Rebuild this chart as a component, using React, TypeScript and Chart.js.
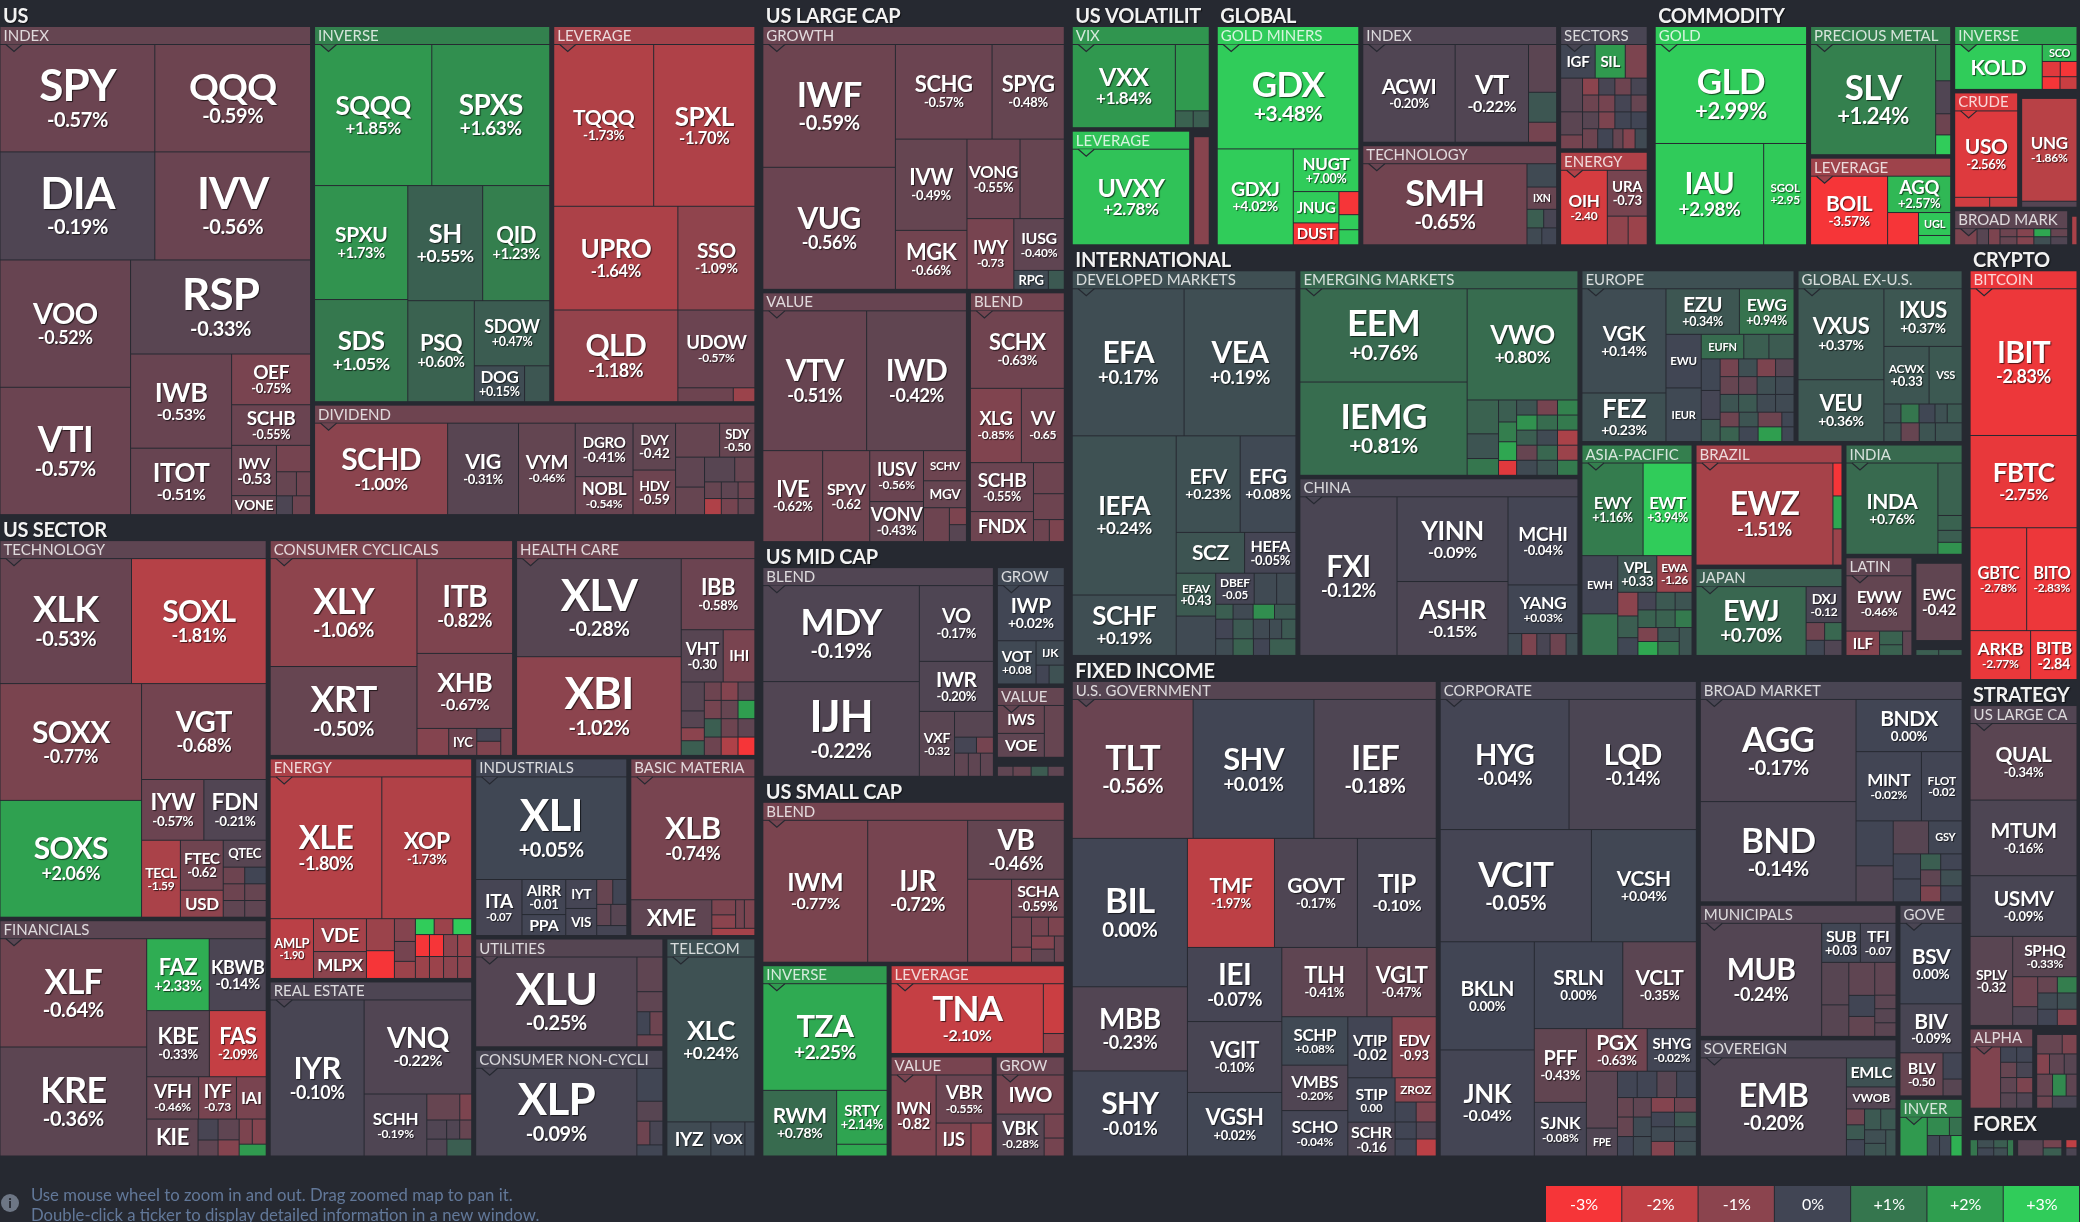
import { useEffect, useRef } from "react";
import { Chart, registerables } from "chart.js";
Chart.register(...registerables);

type Leaf = [string, number, number];
type Split = { dir: "h" | "v"; kids: Node[] };
type Group = { kind: "group" | "sector"; title: string; weight: number; child: Node };
type Node = Leaf | Split | Group;
const H = (...kids: Node[]): Split => ({ dir: "h", kids });
const V = (...kids: Node[]): Split => ({ dir: "v", kids });
const G = (title: string, weight: number, child: Node): Group => ({ kind: "group", title, weight, child });
const S = (title: string, weight: number, child: Node): Group => ({ kind: "sector", title, weight, child });

// ---------- values: [ticker, % change, size] ----------
const usIndex = V(H(["SPY",-0.57,166],["QQQ",-0.59,167]),H(["DIA",-0.19,167],["IVV",-0.56,168]),H(V(["VOO",-0.52,166],["VTI",-0.57,166]),V(["RSP",-0.33,169],H(V(["IWB",-0.53,95],["ITOT",-0.51,67]),V(["OEF",-0.75,40],["SCHB",-0.55,32],H(V(["IWV",-0.53,22.5],["VONE",-0.5,8.5]),V(["",-0.7,9],H(["",-0.5,4.8],["",-0.6,3.4]),H(["",-0.15,3],["",-0.6,3.4]))))))));
const usInverse = V(H(["SQQQ",1.85,165],["SPXS",1.63,166]),H(V(["SPXU",1.73,106],["SDS",1.05,95]),V(H(["SH",0.55,86],["QID",1.23,77]),H(["PSQ",0.6,67],V(["SDOW",0.47,49],H(["DOG",0.15,18],["",0.35,9]))))));
const usLeverage = V(H(["TQQQ",-1.73,162],["SPXL",-1.7,164]),H(V(["UPRO",-1.64,129],["QLD",-1.18,114]),V(["SSO",-1.09,80],["UDOW",-0.57,60],H(["",-0.6,7.7],["",-1.3,3]))));
const usDividend = H(["SCHD",-1.0,122],["VIG",-0.31,65],["VYM",-0.46,52],V(["DGRO",-0.41,31],["NOBL",-0.54,22]),V(["DVY",-0.42,20],["HDV",-0.59,19]),V(H(["",-0.5,15],["SDY",-0.5,12]),H(V(["",-0.4,8.7],["",-0.5,8]),V(H(["",-0.3,7.5],["",-0.5,5]),H(["",-0.5,2.8],["",-0.4,2.8],["",-0.6,2.8]),H(["",-1.7,2.7],["",-0.7,2.7],["",-0.5,2.7])))));
const techCells = V(H(["XLK",-0.53,165],["SOXL",-1.81,169]),H(V(["SOXX",-0.77,166],["SOXS",2.06,166]),V(["VGT",-0.68,120],H(["IYW",-0.57,38],["FDN",-0.21,38]),H(["TECL",-1.59,30],V(["FTEC",-0.62,21.5],["USD",-1.05,11.6]),V(["QTEC",-0.3,11.6],H(["",-0.6,3.6],["",0,3.6]),H(["",-0.6,3.6],["",-0.5,3.6]),H(["",-0.4,3.6],["",-0.4,3.6]))))));
const financeCells = H(V(["XLF",-0.64,159],["KRE",-0.36,160]),V(H(["FAZ",2.33,45],["KBWB",-0.14,41]),H(["KBE",-0.33,41.5],["FAS",-2.09,37.6]),H(["VFH",-0.46,22],["IYF",-0.73,16],["IAI",-0.75,12.6]),H(["KIE",-0.4,19],V(["",-0.1,4.2],["",-0.4,3.2]),V(["",-0.4,4.4],["",-0.9,3.4]),V(H(["",-0.8,3.3],["",-0.9,3.5]),["",1.9,3.2]))));
const cyclicalCells = H(V(["XLY",-1.06,159],["XRT",-0.5,131]),V(["ITB",-0.82,91],["XHB",-0.67,72],H(["",-0.9,8.6],["IYC",-0.6,7.6],V(["",-0.05,3.1],["",-0.85,3.4]),["",-0.8,3.2])));
const healthCells = H(V(["XLV",-0.28,162],["XBI",-1.02,163]),V(["IBB",-0.58,52.5],H(["VHT",-0.3,22],["IHI",-0.75,16.6]),H(V(["",-0.3,6.7],["",-0.3,3.9],["",-1,3],["",0.5,3.4]),V(H(["",-0.6,3.1],["",-0.9,3.1],["",-0.4,3.1]),H(["",-0.7,3.1],["",-0.5,3.1],["",2,3.1]),H(["",0.5,3.1],["",-0.6,3.1],["",-0.4,3.1]),H(["",-0.6,3.1],["",-1.7,3.1],["",-3,3.1])))));
const energyCells = V(H(["XLE",-1.8,159],["XOP",-1.73,128]),H(["AMLP",-1.9,26],V(["VDE",-1.5,17.5],["MLPX",-1.0,14.3]),V(["",-1.3,9],["",-3,7.8]),V(["",-0.9,4.8],["",-0.7,4.2],["",-1.3,3.6]),V(H(["",3,3],["",-1.3,3],["",3,3]),H(["",-3,3.1],["",-3,3.1],["",-1,3.1],["",-1.3,3.1]),H(["",-1.3,3.1],["",-1.3,3.1],["",-1,3.1],["",-1,3.1]))));
const realEstateCells = H(["IYR",-0.1,147],V(["VNQ",-0.22,101.5],H(["SCHH",-0.19,39],V(H(["",-0.5,8.6],["",-0.8,3.1]),H(["",-0.2,3.8],["",-0.2,2.5],["",-0.5,2.3]),H(["",-0.2,3.4],["",0.5,4.2])))));
const industrialCells = V(["XLI",0.05,155.5],H(["ITA",-0.07,26],V(["AIRR",-0.01,15.4],["PPA",-0.02,9.2]),V(["IYT",-0.05,9],["VIS",-0.05,8.4]),V(H(["",-0.5,4],["",0,3.5]),H(["",-0.4,3],["",-0.3,3.4]),["",-0.05,3])));
const materialCells = V(["XLB",-0.74,152.5],H(["XME",-0.4,29],V(H(V(["",-0.8,3.6],["",-1,3.2]),["",-0.7,2.5],["",-0.8,3]),["",-1.5,3.1])));
const utilityCells = H(["XLU",-0.25,145],V(["",-0.4,9],["",-0.4,5.2],H(["",0,3],["",-0.6,3]),["",-0.6,3.1]));
const staplesCells = H(["XLP",-0.09,142],V(["",0.02,8.6],["",-0.3,5.2],H(["",-0.6,3.1],["",-0.1,3.1]),["",0.02,2.9]));
const telecomCells = V(["XLC",0.24,145],H(["IYZ",0.12,15],["VOX",0.08,11.6],["",0.08,3.4]));

const growthCells = H(V(["IWF",-0.59,162],["VUG",-0.56,161]),V(H(["SCHG",-0.57,91],["SPYG",-0.48,68]),H(V(["IVW",-0.49,65],["MGK",-0.66,42]),V(H(["VONG",-0.55,42],["",-0.5,35]),H(["IWY",-0.73,33],V(["IUSG",-0.4,26],H(["RPG",0.1,6.5],["",0.4,3])))))));
const valueCells = V(H(["VTV",-0.51,145.6],["IWD",-0.42,140]),H(["IVE",-0.62,54.6],["SPYV",-0.62,43],V(["IUSV",-0.56,27.5],["VONV",-0.43,21.6]),V(["SCHV",-0.6,13],["MGV",-0.5,11.6],H(["",-0.6,8.8],V(["",-0.8,2.9],["",-0.3,2.9])))));
const blendCells = V(["SCHX",-0.63,73],H(["XLG",-0.85,38],["VV",-0.65,32]),H(V(["SCHB",-0.55,31],["FNDX",-0.6,19]),V(["",-0.6,9.6],["",-0.6,8],H(["",-0.6,3.5],["",-0.8,3.3]))));
const midBlendCells = H(V(["MDY",-0.19,150],["IJH",-0.22,148]),V(["VO",-0.17,56],["IWR",-0.2,37],H(["VXF",-0.32,22.8],V(["",-0.3,10],H(["",-0.05,3.5],["",-0.7,2.7]),H(["",-0.4,3.2],["",-0.4,2.8],["",-0.4,3])))));
const midGrowCells = V(["IWP",0.02,37.5],H(["VOT",0.08,17],V(["IJK",0.1,7],H(["",-0.02,2.5],["",0.25,2.9]))));
const midValueCells = H(V(["IWS",-0.5,13.2],["VOE",-0.4,11.3]),["",-0.5,10.4]);
const midBareCells = H(["",-0.4,2.5],["",-0.5,2.9],["",0.45,2.7],["",-0.4,2.6]);
const smallBlendCells = H(["IWM",-0.77,149],["IJR",-0.72,142],V(["VB",-0.46,57],H(["",-0.75,36.5],V(["SCHA",-0.59,20],H(V(["",-0.7,6],["",-0.9,3]),V(H(["",-0.7,3.2],["",-0.8,3]),H(V(["",-0.9,3],["",-0.45,3]),["",-0.6,2.6])))))));
const smallInverseCells = V(["TZA",2.25,134],H(["RWM",0.78,49],V(["SRTY",2.14,27.5],["",2.2,6])));
const smallLeverCells = H(["TNA",-2.1,107],V(["",-2.2,10.5],["",-1.3,4.2]));
const smallValueCells = H(["IWN",-0.82,36.5],V(["VBR",-0.55,27],H(["IJS",-0.8,11.5],["",-1,7])));
const smallGrowCells = V(["IWO",-0.7,26.5],H(["VBK",-0.28,20],V(["",-0.7,4.8],["",-0.7,3.6])));

const vixCells = H(["VXX",1.84,85.5],V(["",1.9,22.4],H(["",0.6,3],["",0.5,2.7])));
const goldMinerCells = V(["GDX",3.48,148],H(["GDXJ",4.02,73],V(["NUGT",7.0,28],H(V(["JNUG",6.9,14.3],["DUST",-6.9,10]),V(["",-7,4.6],["",3.5,3],["",3.5,3])))));
const globalIndexCells = H(["ACWI",-0.2,90],["VT",-0.22,71.5],V(["",-0.35,13.4],["",0.35,8.4],["",-0.7,5.6]));
const globalTechCells = H(["SMH",-0.65,133],V(["",0.1,6.9],["IXN",-0.5,6.6],H(["",0.5,3.1],["",-0.1,2.4]),H(["",0.1,2.5],["",0.02,2.5])));
const globalSectorCells = V(H(["IGF",0.02,11.5],["SIL",1.9,10],["",-0.8,7.3]),H(V(["",-0.3,7.3],["",-0.35,5],["",-0.7,3]),V(H(["",-1,2.7],["",-0.1,2.7],["",-0.6,2.7],["",-0.1,2.7]),H(["",-0.6,2.7],["",-0.7,2.7],["",-0.05,2.7],["",-0.5,2.7]),H(["",-0.3,2.7],["",-0.8,2.7],["",0,2.7],["",0,2.7]),H(["",-0.6,3],["",0,3],["",-0.5,2],["",-0.9,2.4],["",0.1,2.4]))));
const globalEnergyCells = H(["OIH",-2.4,35],V(["URA",-0.73,18.4],H(["",-1.1,6],["",-1.3,5.5])));
const goldCells = V(["GLD",2.99,150],H(["IAU",2.98,110],["SGOL",2.95,43.5]));
const preciousCells = H(["SLV",1.24,139],V(["",1.3,5.5],["",-0.2,5],["",-0.6,3.2],["",3,3]));
const commodityLeverCells = H(["BOIL",-3.57,53],V(["AGQ",2.57,23],H(["",-3.2,10],V(["UGL",2.9,7.4],["",3,3]))));
const commodityInverseCells = H(["KOLD",3.2,40],V(["SCO",2.6,6],H(["",-2.6,2.8],["",-3.2,2.6]),H(["",-3.2,2.3],["",-2.2,2.2])));
const crudeCells = V(["USO",-2.56,55],H(["",-2.3,3.5],["",-2.2,2.8]));
const ungCells = V(["UNG",-1.86,56.6],["",-0.25,3.3]);
const broadCommodityCells = H(["",-0.8,3.7],["",-0.3,1.9],["",-0.8,1.9],V(H(["",-0.6,1.4],["",-0.9,1.4],["",2.2,1.4],["",-0.5,1.4]),H(["",-0.5,1.4],["",-0.9,1.4],["",0.2,1.4],["",-0.2,1.4])));

const developedCells = V(H(["EFA",0.17,165],["VEA",0.19,165]),H(V(["IEFA",0.24,166],["SCHF",0.19,63]),V(H(["EFV",0.23,62],["EFG",0.08,54]),H(["SCZ",0.3,28],["HEFA",-0.05,21]),H(V(["EFAV",0.43,17],["",0.1,15.6]),V(H(["DBEF",-0.05,12],["",0.1,7],["",0.12,6]),H(["",0.5,2.6],["",0.1,3],["",1.6,3.2],["",0.4,3.2]),H(["",-0.02,3.4],["",0.4,4],["",0.1,3.2],["",0.15,2.4],["",0.4,2.8]),H(["",0.15,2.9],["",0.6,3.4],["",0,2.7],["",0.5,4.4]))))));
const emergingCells = H(V(["EEM",0.76,157],["IEMG",0.81,157]),V(["VWO",0.8,124],H(V(["",0.6,10.7],["",0.3,7.8],["",1,5.3]),V(["",0.5,4],["",1.2,3.6],["",2.2,3.4],["",-2.6,2.7]),V(H(["",0.3,3.1],["",-0.7,3.1],["",1.3,3.1]),H(["",1.7,3.1],["",0.8,3.1],["",1.1,3.1]),H(["",0.5,3.1],["",0.1,3.1],["",-1.6,3.1]),H(["",-0.5,3.1],["",0.7,3.1],["",-1.3,3.1]),H(["",0.1,3.1],["",0.3,3.1],["",1.1,3.1])))));
const chinaCells = H(["FXI",-0.12,154],V(["YINN",-0.09,94],["ASHR",-0.15,82]),V(["MCHI",-0.04,61.6],["YANG",0.03,34],H(["",0.1,3],["",-0.8,3.3],["",-0.1,2.9],["",-0.6,3.5],["",0.2,2.6])));
const europeCells = H(V(["VGK",0.14,88],["FEZ",0.23,41]),V(H(["EZU",0.34,33.6],["EWG",0.94,25]),H(V(["EWU",0.02,19],["IEUR",0.08,19]),V(H(["EUFN",0.8,10.5],["",0.5,6.2],["",0.45,6.2]),H(V(["",0.05,6],["",-0.05,5.5],["",0.4,4.2]),V(H(["",-0.7,3.3],["",0.2,3.3],["",-0.8,3.3],["",-0.3,3.3]),H(["",-0.5,3.3],["",-0.4,3.3],["",0.2,3.3],["",0.1,3.3]),H(["",0.3,3.3],["",0.4,3.3],["",0.1,3.3],["",0.1,3.3]),H(["",-0.6,2.8],["",0.3,2.8],["",-0.6,3.5],["",0.05,1.8]),H(["",0.6,2.8],["",0.05,2.8],["",2,3.5],["",0.05,1.8])))))));
const exUsCells = H(V(["VXUS",0.37,78],["VEU",0.36,53]),V(["IXUS",0.37,45],H(["ACWX",0.33,26],["VSS",0.4,19]),V(H(["",0.25,3.2],["",1,3.4],["",0.05,3],["",0.25,2.3],["",0.4,2.8]),H(["",0.3,3.2],["",-0.5,3.4],["",0.3,3],["",0.3,5]))));
const asiaCells = V(H(["EWY",1.16,57],["EWT",3.94,45.6]),H(V(["EWH",-0.02,21],["",0.9,15]),V(H(["VPL",0.33,14.4],["EWA",-1.26,13]),H(V(["",-1,4.8],["",0.5,4.4],["",0.05,3.6]),V(H(["",-0.05,3.2],["",0.4,3.4],["",0.3,3]),H(["",0.6,3.2],["",0.6,3.4],["",1.1,3]),H(V(["",-0.8,2.8],["",2.2,2.8]),V(["",0.3,3],["",0.9,3]),["",0.3,3.6]))))));
const brazilCells = H(["EWZ",-1.51,141],V(["",-3,3],["",2.2,3],["",-1.3,3.3]));
const japanCells = H(["EWJ",0.7,74],V(["DXJ",-0.12,12.6],H(["",-0.6,3.2],["",0.7,3]),H(["",0.05,2.7],["",-0.2,2.6])));
const indiaCells = H(["INDA",0.76,84],V(["",0.6,12.7],["",0.6,3.6],["",0.5,2.9],["",1.7,2.9]));
const latinCells = V(["EWW",-0.46,37],H(["ILF",-0.9,8.3],V(["",0.6,3.2],["",0.6,2.5]),["",-0.4,2.3]));
const ewcCells: Leaf = ["EWC",-0.42,44];
const latinBareCells = H(["",0.5,3.7],["",0.5,3.8]);

const govCells = V(H(["TLT",-0.56,168],["SHV",0.01,168],["IEF",-0.18,170]),H(V(["BIL",0,171],["MBB",-0.23,97],["SHY",-0.01,98]),V(H(["TMF",-1.97,95],["GOVT",-0.17,90.5],["TIP",-0.1,86]),H(V(["IEI",-0.07,70],["VGIT",-0.1,67],["VGSH",0.02,60]),V(H(["TLH",-0.41,59],["VGLT",-0.47,48]),H(V(["SCHP",0.08,32],["VMBS",-0.2,30],["SCHO",-0.04,30]),V(H(["VTIP",-0.02,27],["EDV",-0.93,27]),H(V(["STIP",0,21],["SCHR",-0.16,16]),V(["ZROZ",-1,10],H(["",0,4.2],["",-0.8,4]),H(["",0,3.6],["",-0.2,3.4]),H(["",0,3.6],["",-1.9,3.4]))))))))));
const corpCells = V(H(["HYG",-0.04,168],["LQD",-0.14,166]),H(["VCIT",-0.05,170],["VCSH",0.04,118]),H(V(["BKLN",0,102],["JNK",-0.04,100]),V(H(["SRLN",0,77],["VCLT",-0.35,64]),H(V(["PFF",-0.43,38.5],["SJNK",-0.08,28]),V(H(["PGX",-0.63,26],["SHYG",-0.02,21]),H(V(["",-0.35,17.7],["FPE",-0.2,8.7]),V(H(["",0,5.2],["",0,5.2],["",-0.3,5.2],["",0,5.2]),H(V(["",-0.5,3.1],["",-0.5,3.1],["",0,3.1]),V(["",-0.4,3.5],["",0.1,3.5],["",0.1,3.5]),V(["",-0.9,3.4],["",0,3.4],["",0.1,3.4],["",-0.9,3.4]),V(["",-0.6,3.2],["",0.35,3.2],["",0.1,3.2],["",0.2,3.2])))))))));
const broadCells = H(V(["AGG",-0.17,158],["BND",-0.14,155]),V(["BNDX",0,55],H(["MINT",-0.02,45],["FLOT",-0.02,28]),H(V(["",0,16.6],["",-0.2,13.3]),V(H(["",-0.3,11.6],["GSY",0.02,11]),H(V(["",0,6.8],["",0,6.2]),V(H(["",0.5,3.2],["",0,3.4]),H(["",-0.4,3.2],["",0.2,3.4]),H(["",-0.8,3.2],["",0,3.4])))))));
const muniCells = H(["MUB",-0.24,138],V(H(["SUB",0.03,15.2],["TFI",-0.07,14]),H(V(["",-0.3,11.6],["",-0.3,8.6]),V(["",-0.4,8.6],["",0,5.5],["",-0.45,5.2]),V(["",-0.4,7],["",-0.35,2.9],["",-0.3,3],["",-0.35,2.9]))));
const sovereignCells = H(["EMB",-0.2,144.5],V(["EMLC",0.25,14.5],["VWOB",-0.25,11],H(V(["",-0.6,2.9],["",0.4,2.7],["",0,3]),V(H(["",0.4,3.4],["",0.4,3.2]),H(V(["",0.2,2.9],["",0.3,2.7]),["",0.3,2.7])))));
const shortGovCells = V(["BSV",0,50],["BIV",-0.09,30.4],H(["BLV",-0.5,18.5],V(["",-0.02,5],["",-0.3,3.2])));
const bondInverseCells = H(["",1.9,10.5],V(H(["",1.5,4],["",0.9,2.3]),H(["",0.05,2.5],["",0.05,2.3],["",2.4,2.3])));
const bitcoinCells = V(["IBIT",-2.83,159],["FBTC",-2.75,100],H(["GBTC",-2.78,59],["BITO",-2.83,52.5]),H(["ARKB",-2.77,30],["BITB",-2.84,23]));
const strategyLargeCells = V(["QUAL",-0.34,82],["MTUM",-0.16,81],["USMV",-0.09,65],H(["SPLV",-0.32,38],V(["SPHQ",-0.33,26],H(V(["",-0.6,7.5],["",-0.2,4.7]),V(H(["",-0.5,3.2],["",1.2,3.2]),H(["",0.1,3.2],["",0.2,3.2]),H(["",0,3.2],["",-0.9,3.2]))))));
const alphaCells = H(["",-0.85,19],V(H(["",0,2.5],["",0,2.5]),H(["",-0.5,2.5],["",-0.1,2.5]),H(["",-0.4,2.5],["",-0.8,2.5]),H(["",-0.3,2.5],["",-0.2,2.5])));
const strategyBareCells = V(H(["",-0.5,5],["",-0.8,2.9]),H(["",-0.9,2.6],["",-0.4,3],["",-0.3,2.6]),H(["",-0.5,3.5],["",1.5,3],["",-0.4,2.4]),H(["",-0.6,1.9],["",-0.1,3]));
const forexCells1 = H(["",1,1.2],V(["",0.2,1.3],["",0.05,1.3]),V(["",0.5,1.1],["",0.2,1.1]),["",1,1]);
const forexCells2 = H(["",-0.3,3],V(["",-0.7,1.1],["",0.5,1.1]));
const forexCells3 = V(["",-2,0.6],["",-0.15,0.6]);

const mapTree = H(
  V(
    S("US", 3926, H(G("INDEX",1547,usIndex), V(H(G("INVERSE",906,usInverse),G("LEVERAGE",777,usLeverage)),G("DIVIDEND",502,usDividend)))),
    S("US SECTOR", 4898, H(V(G("TECHNOLOGY",1033,techCells),G("FINANCIALS",649,financeCells)),V(H(G("CONSUMER CYCLICALS",541,cyclicalCells),G("HEALTH CARE",532,healthCells)),H(V(G("ENERGY",461,energyCells),G("REAL ESTATE",367,realEstateCells)),V(H(G("INDUSTRIALS",281,industrialCells),G("BASIC MATERIA",232,materialCells)),H(V(G("UTILITIES",214,utilityCells),G("CONSUMER NON-CYCLI",210,staplesCells)),G("TELECOM",204,telecomCells)))))))
  ),
  V(
    S("US LARGE CAP", 1676, V(G("GROWTH",814,growthCells),H(G("VALUE",524,valueCells),G("BLEND",247,blendCells)))),
    S("US MID CAP", 727, H(G("BLEND",498,midBlendCells),V(G("GROW",85,midGrowCells),G("VALUE",52,midValueCells),G("",13.5,midBareCells)))),
    S("US SMALL CAP", 1176, V(G("BLEND",500,smallBlendCells),H(G("INVERSE",249,smallInverseCells),V(G("LEVERAGE",162,smallLeverCells),H(G("VALUE",108,smallValueCells),G("GROW",74,smallGrowCells))))))
  ),
  V(
    H(
      S("US VOLATILIT", 354.5, V(G("VIX",147,vixCells),H(G("LEVERAGE",141.6,["UVXY",2.78,112]),G("",22.8,["",-0.95,17])))),
      S("GLOBAL", 1071, H(G("GOLD MINERS",323,goldMinerCells),V(G("INDEX",236,globalIndexCells),G("TECHNOLOGY",203,globalTechCells)),V(G("SECTORS",114,globalSectorCells),G("ENERGY",87,globalEnergyCells)))),
      S("COMMODITY", 1051, H(G("GOLD",345,goldCells),V(G("PRECIOUS METAL",190,preciousCells),G("LEVERAGE",130,commodityLeverCells)),V(G("INVERSE",84,commodityInverseCells),H(G("CRUDE",79,crudeCells),G("",70,ungCells)),H(G("BROAD MARK",44,broadCommodityCells),G("",3.5,["",-1.6,2])))))
    ),
    H(
      V(
        S("INTERNATIONAL", 3691, H(G("DEVELOPED MARKETS",887,developedCells),V(G("EMERGING MARKETS",589,emergingCells),G("CHINA",510,chinaCells)),V(H(G("EUROPE",378,europeCells),G("GLOBAL EX-U.S.",294,exUsCells)),H(G("ASIA-PACIFIC",245,asiaCells),V(G("BRAZIL",186,brazilCells),G("JAPAN",136,japanCells)),V(G("INDIA",136,indiaCells),H(G("LATIN",71,latinCells),V(G("",43.5,ewcCells),G("",7.5,latinBareCells)))))))),
        S("FIXED INCOME", 4499, H(G("U.S. GOVERNMENT",1768,govCells),G("CORPORATE",1250,corpCells),V(G("BROAD MARKET",598,broadCells),H(V(G("MUNICIPALS",270,muniCells),G("SOVEREIGN",240,sovereignCells)),V(G("GOVE",129,shortGovCells),G("INVER",40,bondInverseCells))))))
      ),
      V(
        S("CRYPTO", 500, G("BITCOIN",500,bitcoinCells)),
        S("STRATEGY", 493, V(G("US LARGE CA",362,strategyLargeCells),H(G("ALPHA",55.6,alphaCells),G("",37,strategyBareCells)))),
        S("FOREX", 55, H(G("",47,forexCells1),G("",47.7,forexCells2),G("",15,forexCells3)))
      )
    )
  )
);

const legendTicks = [-3, -2, -1, 0, 1, 2, 3];
const legendLabels = ["-3%", "-2%", "-1%", "0%", "+1%", "+2%", "+3%"];
const noteLines = ["Use mouse wheel to zoom in and out. Drag zoomed map to pan it.", "Double-click a ticker to display detailed information in a new window."];

// ---------- styles: [ticker font px, change font px; 0 hides the change] ----------
const labelSizes: Record<string, [number, number]> = {
SPY:[44,20],QQQ:[37,20],DIA:[44,20],IVV:[44,20],VOO:[29,18],VTI:[36,20],RSP:[44,20],IWB:[27,16],ITOT:[26,16],OEF:[19,13],SCHB:[19,12.5],IWV:[16,15],VONE:[14,0],
SQQQ:[26,17],SPXS:[28,19],SPXU:[21,14.5],SH:[26,17.5],QID:[22,14.5],SDS:[26,17.5],PSQ:[22,14.5],SDOW:[18,12.5],DOG:[17,12.5],TQQQ:[21,13.5],SPXL:[26,16.5],UPRO:[26,16.5],SSO:[21,14],QLD:[30,18],UDOW:[18.5,12],
SCHD:[30,17.5],VIG:[21.5,13],VYM:[19,12],DGRO:[15,14],NOBL:[16.5,12],DVY:[14,13.5],HDV:[14,13.5],SDY:[13,12],
XLK:[36,20],SOXL:[30,18],SOXX:[30,18],VGT:[29,18],SOXS:[30,18],IYW:[23,13.5],FDN:[23,13.5],TECL:[14,12],FTEC:[15.5,13],QTEC:[13,0],USD:[17,0],
XLF:[34,20],KRE:[36,20],FAZ:[22,14.5],KBWB:[18,14.5],KBE:[22,13],FAS:[22,13],VFH:[19,12],IYF:[19,12],IAI:[17,0],KIE:[22,0],
XLY:[36,20],XRT:[36,20],ITB:[30,18],XHB:[27,16],IYC:[13,0],XLV:[44,20],XBI:[44,20],IBB:[22,13],VHT:[16.5,13],IHI:[15,0],
XLE:[32,18],XOP:[23,13],AMLP:[13,11],VDE:[19,0],MLPX:[17,0],XLI:[44,20],ITA:[19,11.5],AIRR:[15.5,13],PPA:[16,0],IYT:[13.5,0],VIS:[13.5,0],XLB:[31,18],XME:[23,0],
IYR:[31,18],VNQ:[28,16],SCHH:[17,12],XLU:[44,20],XLP:[44,20],XLC:[27,17],IYZ:[19,0],VOX:[14,0],
IWF:[35,20],VUG:[30,18],SCHG:[22,13],SPYG:[22,13],IVW:[22,13],VONG:[17,13],MGK:[22,13],IWY:[18,12],IUSG:[16,12],RPG:[13,0],VTV:[30,18],IWD:[30,18],IVE:[22,13],SPYV:[16,13],IUSV:[18,12],VONV:[18,13],SCHV:[11.5,0],MGV:[13.5,0],SCHX:[22,13],XLG:[18,12],VV:[18,12],FNDX:[18,0],
MDY:[36,20],IJH:[44,20],VO:[20,13],IWR:[21,13],VXF:[14,11.5],IWP:[21,14],VOT:[15,12],IJK:[12,0],IWS:[15,0],VOE:[16,0],IWM:[25,16],IJR:[28,18],VB:[28,18],SCHA:[16,13],TZA:[31,19],RWM:[21,14],SRTY:[15,13],TNA:[35,16],IWN:[17,14.5],VBR:[19,12],IJS:[18,0],IWO:[21,0],VBK:[18,12],
VXX:[25,17],UVXY:[25,17],GDX:[35,21],GDXJ:[19.5,14],NUGT:[17,12.5],JNUG:[15,0],DUST:[15,0],ACWI:[21,13],VT:[27,16],SMH:[36,20],IXN:[10.5,0],IGF:[15,0],SIL:[15,0],OIH:[17,12],URA:[15,13],
GLD:[35,22],IAU:[30,19],SGOL:[11.5,12],SLV:[35,22],BOIL:[21,13.5],AGQ:[18.5,13],UGL:[11,0],KOLD:[21,0],SCO:[11,0],USO:[21,13],UNG:[17,12],
EFA:[30,18.5],VEA:[30,18.5],IEFA:[26,17],SCHF:[26,17],EFV:[21,14],EFG:[21,14],SCZ:[21,0],HEFA:[16,13],EFAV:[12,12.5],DBEF:[12,11.5],EEM:[36,21],IEMG:[35,21],VWO:[26,17],FXI:[30,18],YINN:[26,16],ASHR:[26,16],MCHI:[19,13],YANG:[17.5,12],
VGK:[21,14],FEZ:[26,14],EZU:[21,12.5],EWG:[17.5,12.5],EWU:[11.5,0],IEUR:[11,0],EUFN:[11,0],VXUS:[22,14],VEU:[22,14],IXUS:[22,14],ACWX:[12,13],VSS:[11,0],EWY:[17,12.5],EWT:[17,12.5],EWH:[11,0],VPL:[15,13],EWA:[12,12],EWZ:[32,18],EWJ:[29,19],DXJ:[14,12],INDA:[21,14],EWW:[17,12],ILF:[15,0],EWC:[15,15],
TLT:[35,20],SHV:[31,18.5],IEF:[35,20],BIL:[35,20.5],TMF:[21,13],GOVT:[21,13],TIP:[26,16],MBB:[28,18],SHY:[30,18],IEI:[30,18],VGIT:[22,13],VGSH:[22,13],TLH:[22,13],VGLT:[22,13],SCHP:[17,12],VMBS:[17,12],SCHO:[17,12],VTIP:[16,15],EDV:[16,13],STIP:[16,11.5],SCHR:[16,13.5],ZROZ:[12,0],
HYG:[29,18],LQD:[29,18],VCIT:[35,20],VCSH:[21,14],BKLN:[21,13.5],JNK:[26,16],SRLN:[21,13.5],VCLT:[21,13],PFF:[20,13],SJNK:[17,12],PGX:[21,13],SHYG:[15,12],FPE:[10.5,0],AGG:[35,20],BND:[35,20],BNDX:[21,13.5],MINT:[17,12],FLOT:[12,12],GSY:[11,0],MUB:[30,18],SUB:[16,13],TFI:[16,12],EMB:[33,20],EMLC:[16,0],VWOB:[12,0],BSV:[21,13.5],BIV:[21,13],BLV:[16,12],
QUAL:[21,13],MTUM:[21,13],USMV:[21,13],SPLV:[14,13],SPHQ:[15.5,12],IBIT:[30,18],FBTC:[26,16],GBTC:[16.5,12],BITO:[16.5,12],ARKB:[17.5,12],BITB:[17,14.5],
};
const noPercentSign = new Set(["IWV","DVY","HDV","SDY","TECL","FTEC","IYF","VHT","AMLP","ITA","AIRR","VXF","IWY","SPYV","VV","VOT","IWN","OIH","URA","SGOL","EFAV","DBEF","ACWX","VPL","EWA","DXJ","EWC","VTIP","EDV","STIP","SCHR","FLOT","SUB","TFI","BLV","SPLV","BITB"]);

const PAGE_BG = "#262931";
const STOPS: [number, number[]][] = [[-3,[246,53,56]],[-2,[191,64,69]],[-1,[139,68,78]],[0,[65,69,84]],[1,[53,118,78]],[2,[47,158,79]],[3,[48,204,90]]];
function colorFor(v: number) {
  const c = Math.max(-3, Math.min(3, v));
  for (let i = 0; i < STOPS.length - 1; i++) {
    const [a, ca] = STOPS[i], [b, cb] = STOPS[i + 1];
    if (c <= b) {
      const t = (c - a) / (b - a);
      return `rgb(${ca.map((q, k) => Math.round(q + (cb[k] - q) * t)).join(",")})`;
    }
  }
  return "rgb(48,204,90)";
}

// ---------- treemap layout from the size values ----------
const isLeaf = (n: Node): n is Leaf => Array.isArray(n);
const isGroup = (n: Node): n is Group => !isLeaf(n) && "kind" in n;
function weightOf(n: Node): number {
  if (isLeaf(n)) return n[2];
  if (isGroup(n)) return n.weight;
  return n.kids.reduce((s, k) => s + weightOf(k), 0);
}
function meanOf(n: Node): [number, number] {
  if (isLeaf(n)) return [n[1] * n[2], n[2]];
  if (isGroup(n)) return meanOf(n.child);
  return n.kids.reduce<[number, number]>((s, k) => { const m = meanOf(k); return [s[0] + m[0], s[1] + m[1]]; }, [0, 0]);
}
type Rect = { x0: number; y0: number; x1: number; y1: number };
const cells: any[] = [], headers: any[] = [], titles: any[] = [];
const GROUP_INSET = 2, SECTOR_INSET = 2, SECTOR_TITLE = 18.5, HEADER = 17.5, BARE_TOP = 5;
function place(n: Node, r: Rect) {
  if (isLeaf(n)) {
    cells.push({ x: (r.x0 + r.x1) / 2, y: (r.y0 + r.y1) / 2, x0: r.x0, y0: r.y0, x1: r.x1, y1: r.y1, name: n[0], value: n[1] });
    return;
  }
  if (isGroup(n)) {
    if (n.kind === "sector") {
      titles.push({ x: r.x0, y: r.y0, title: n.title });
      place(n.child, { x0: r.x0 + SECTOR_INSET, x1: r.x1 - SECTOR_INSET, y0: r.y0 + SECTOR_INSET + SECTOR_TITLE, y1: r.y1 - SECTOR_INSET });
    } else {
      const v = { x0: r.x0 + GROUP_INSET, x1: r.x1 - GROUP_INSET, y0: r.y0 + GROUP_INSET, y1: r.y1 - GROUP_INSET };
      if (n.title) {
        const m = meanOf(n.child);
        headers.push({ x: v.x0, y: v.y0, x0: v.x0, x1: v.x1, y0: v.y0, y1: v.y0 + HEADER, title: n.title, value: m[0] / m[1] });
        place(n.child, { ...v, y0: v.y0 + HEADER });
      } else place(n.child, { ...v, y0: v.y0 + BARE_TOP });
    }
    return;
  }
  const total = weightOf(n);
  let pos = n.dir === "h" ? r.x0 : r.y0;
  const span = n.dir === "h" ? r.x1 - r.x0 : r.y1 - r.y0;
  for (const k of n.kids) {
    const d = (span * weightOf(k)) / total;
    place(k, n.dir === "h" ? { ...r, x0: pos, x1: pos + d } : { ...r, y0: pos, y1: pos + d });
    pos += d;
  }
}
place(mapTree, { x0: -4, y0: 4.5, x1: 2081, y1: 1160 });

function fmt(name: string, v: number) {
  const body = Math.abs(v).toFixed(2);
  const sign = v > 0 ? "+" : v < 0 ? "-" : "";
  return sign + body + (noPercentSign.has(name) ? "" : "%");
}
const FONT = "Lato, 'Noto Sans', sans-serif";
const CAP = 0.72;

const mapPlugin = {
  id: "treemapCells",
  afterDatasetsDraw(chart: any) {
    const { ctx, scales } = chart;
    const X = (v: number) => scales.x.getPixelForValue(v);
    const Y = (v: number) => scales.y.getPixelForValue(v);
    ctx.save();
    for (const c of chart.data.datasets[0].data) {
      const x0 = X(c.x0) + 0.5, x1 = X(c.x1) - 0.5, y0 = Y(c.y0) + 0.5, y1 = Y(c.y1) - 0.5;
      ctx.fillStyle = colorFor(c.value);
      ctx.fillRect(x0, y0, Math.max(0, x1 - x0), Math.max(0, y1 - y0));
    }
    for (const h of chart.data.datasets[1].data) {
      const x0 = X(h.x0), x1 = X(h.x1), y0 = Y(h.y0), y1 = Y(h.y1);
      const col = colorFor(h.value);
      ctx.fillStyle = col;
      ctx.fillRect(x0 + 0.5, y0, x1 - x0 - 1, y1 - y0 - 0.5);
      ctx.beginPath();
      ctx.moveTo(x0 + 6, y1);
      ctx.lineTo(x0 + 14, y1 + 7);
      ctx.lineTo(x0 + 22, y1);
      ctx.fillStyle = col;
      ctx.strokeStyle = PAGE_BG;
      ctx.lineWidth = 1.2;
      ctx.fill();
      ctx.stroke();
      ctx.save();
      ctx.beginPath();
      ctx.rect(x0, y0, x1 - x0, y1 - y0);
      ctx.clip();
      ctx.font = `400 15px ${FONT}`;
      ctx.fillStyle = "rgba(255,255,255,0.8)";
      ctx.textAlign = "left";
      ctx.textBaseline = "alphabetic";
      ctx.fillText(h.title, x0 + 3.5, y0 + 14);
      ctx.restore();
    }
    ctx.shadowColor = "rgba(0,0,0,0.65)";
    ctx.shadowOffsetX = 1;
    ctx.shadowOffsetY = 1;
    ctx.shadowBlur = 1;
    ctx.textAlign = "center";
    ctx.textBaseline = "alphabetic";
    ctx.fillStyle = "#fff";
    for (const c of chart.data.datasets[0].data) {
      if (!c.name) continue;
      const [tSize, pSize] = labelSizes[c.name] || [12, 0];
      const cx = X(c.x), cy = Y(c.y);
      const capT = tSize * CAP, capP = pSize * CAP;
      const gap = pSize ? Math.max(3, tSize * 0.25) : 0;
      const top = cy - (capT + gap + capP) / 2;
      ctx.letterSpacing = "-0.02em";
      ctx.font = `700 ${tSize}px ${FONT}`;
      ctx.letterSpacing = `${-0.02 * tSize}px`;
      ctx.fillText(c.name, cx, top + capT);
      if (pSize) {
        ctx.font = `700 ${pSize}px ${FONT}`;
        ctx.letterSpacing = `${-0.02 * pSize}px`;
        ctx.fillText(fmt(c.name, c.value), cx, top + capT + gap + capP);
      }
    }
    ctx.letterSpacing = "0px";
    ctx.textAlign = "left";
    ctx.font = `700 20px ${FONT}`;
    ctx.letterSpacing = "-0.3px";
    ctx.fillStyle = "#f2f2f2";
    for (const t of chart.data.datasets[2].data) {
      ctx.fillText(t.title, X(t.x) + 7, Y(t.y) + 18.5);
    }
    ctx.letterSpacing = "0px";
    ctx.shadowColor = "transparent";
    // legend
    for (const s of chart.data.datasets[3].data) {
      ctx.fillStyle = colorFor(s.tick);
      ctx.fillRect(X(s.x0), Y(s.y0), X(s.x1) - X(s.x0) - 1, Y(s.y1) - Y(s.y0));
      ctx.fillStyle = "#fff";
      ctx.font = `400 16px ${FONT}`;
      ctx.textAlign = "center";
      ctx.fillText(s.label, X(s.x), Y(s.y) + 6);
    }
    // note
    ctx.beginPath();
    ctx.arc(X(10), Y(1203), 9, 0, Math.PI * 2);
    ctx.fillStyle = "#6d7685";
    ctx.fill();
    ctx.fillStyle = PAGE_BG;
    ctx.font = `700 14px ${FONT}`;
    ctx.textAlign = "center";
    ctx.fillText("i", X(10), Y(1208));
    ctx.textAlign = "left";
    ctx.fillStyle = "#627899";
    ctx.font = `400 16.7px ${FONT}`;
    noteLines.forEach((line, i) => ctx.fillText(line, X(31), Y(1201 + i * 19.5)));
    ctx.restore();
  },
};

export default function App() {
  const ref = useRef<HTMLCanvasElement>(null);
  useEffect(() => {
    document.body.style.margin = "0";
    document.body.style.background = PAGE_BG;
    const legendW = (2080 - 1546) / legendTicks.length;
    const chart = new Chart(ref.current as HTMLCanvasElement, {
      type: "scatter",
      data: {
        datasets: [
          { label: "cells", data: cells, pointRadius: 0 },
          { label: "headers", data: headers, pointRadius: 0 },
          { label: "sectors", data: titles, pointRadius: 0 },
          {
            label: "legend",
            pointRadius: 0,
            data: legendTicks.map((tick, i) => ({
              tick, label: legendLabels[i], x: 1546 + legendW * (i + 0.5), y: 1204,
              x0: 1546 + legendW * i, x1: 1546 + legendW * (i + 1), y0: 1186, y1: 1222,
            })),
          },
        ] as any,
      },
      options: {
        animation: false,
        responsive: false,
        devicePixelRatio: 1,
        layout: { padding: 0 },
        events: [],
        plugins: { legend: { display: false }, tooltip: { enabled: false } },
        scales: {
          x: { type: "linear", min: 0, max: 2080, display: false },
          y: { type: "linear", min: 0, max: 1222, reverse: true, display: false },
        },
      },
      plugins: [mapPlugin],
    } as any);
    return () => chart.destroy();
  }, []);
  return <canvas ref={ref} width={2080} height={1222} style={{ display: "block", width: 2080, height: 1222 }} />;
}
